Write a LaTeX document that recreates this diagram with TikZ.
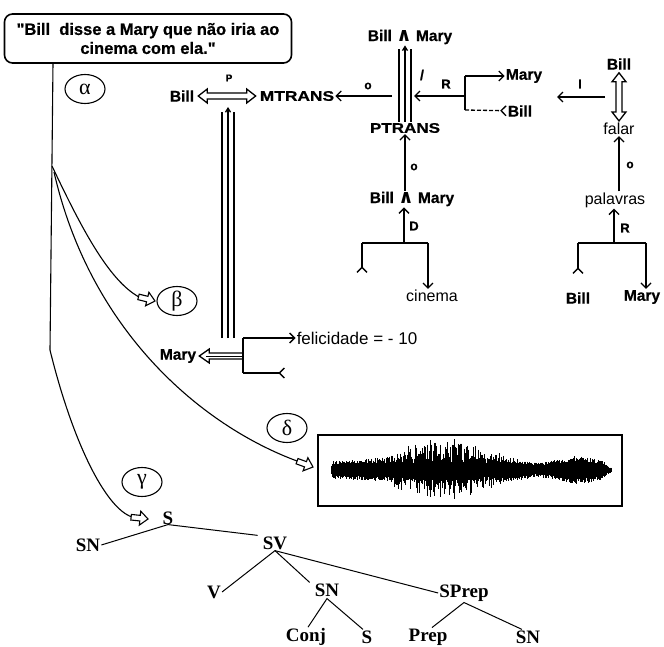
\documentclass[tikz,border=0pt]{standalone}
\usepackage{fontspec}
\setmainfont{Liberation Sans}
\newfontfamily\trfont{Liberation Serif}
\newfontfamily\djv{DejaVu Sans}
\newfontfamily\heavy[FakeBold=0.7]{Liberation Sans Bold}
\usepackage{graphicx}
\usetikzlibrary{arrows.meta,shapes.geometric,calc}
\newcommand{\wedgesym}{{\djv\bfseries\fontsize{19}{17}\selectfont\char"2227}}
\begin{document}
\begin{tikzpicture}[x=1pt,y=-1pt,
  lbl/.style={font=\heavy\fontsize{15.5}{17}\selectfont, inner sep=1pt},
  rlbl/.style={font=\fontsize{16}{17}\selectfont, inner sep=1pt},
  tiny/.style={font=\heavy\fontsize{12}{13}\selectfont, inner sep=1pt},
  tree/.style={font=\trfont\bfseries\fontsize{19}{21}\selectfont, inner sep=1pt},
  greek/.style={draw, ellipse, line width=1.1pt, minimum width=40pt, minimum height=29pt, inner sep=0pt, font=\trfont\fontsize{22}{22}\selectfont},
  ln/.style={line width=1.3pt},
  ar/.style={line width=1.3pt, -{Straight Barb[length=5pt,width=10pt]}},
  narrow/.style={line width=1.3pt, -{Straight Barb[length=4pt,width=5pt]}},
  rv/.style={line width=1.3pt, -{Straight Barb[length=5pt,width=10pt,reversed]}},
  hol/.style={line width=1.3pt, line join=miter, fill=white},
  curve/.style={line width=1.1pt},
  harrow/.pic={\draw[line width=1.1pt, fill=white, line join=miter]
     (-17,2.8) -- (-8,2.8) -- (-8,7) -- (0,0) -- (-8,-7) -- (-8,-2.8) -- (-17,-2.8) -- cycle;}
]
\useasboundingbox (0,0) rectangle (664,647);

% quote box
\node[draw, line width=1.6pt, rounded corners=8pt, minimum width=287pt, minimum height=49pt,
  align=center, inner sep=1pt, font=\heavy\fontsize{16.5}{19}\selectfont] (quote) at (148,38.5)
  {"Bill\ \ disse a Mary que não iria ao\\cinema com ela."};

% greek labels
\node[greek] (alpha) at (85,89) {α};
\node[greek] (beta) at (177,301) {β};
\node[greek] (gamma) at (142,482) {γ};
\node[greek] (delta) at (287,428) {δ};

% curves from the quote
\coordinate (t0) at (53,63);
\coordinate (t1) at (50,350);
\coordinate (b0) at (52,166);
\coordinate (d0) at (54,172);
\coordinate (btip) at (155,301);
\coordinate (dtip) at (313,467);
\coordinate (gtip) at (148,519);
\draw[curve] (t0) -- (t1) .. controls (72,440) and (105,508) .. (132,517);
\draw[curve] (b0) .. controls (80,225) and (108,280) .. (139,297);
\draw[curve] (d0) .. controls (90,330) and (200,425) .. (297,461);
\pic[rotate=-14] at (btip) {harrow};
\pic[rotate=-20] at (dtip) {harrow};
\pic[rotate=-6] at (gtip) {harrow};

% MTRANS part
\node[lbl] (bill1) at (182,96) {Bill};
\node[lbl] (mtrans) at (297,96) {\scalebox{1.12}[0.9]{MTRANS}};
\node[tiny, font=\heavy\fontsize{10}{11}\selectfont] (p) at (229,78) {P};
\coordinate (ha) at ($(bill1.east)+(3,0)$);
\coordinate (hb) at ($(mtrans.west)+(-3,0)$);
\draw[hol] (ha) -- ++(9,-7) -- ++(0,4) -- ($(hb)+(-9,-3)$) -- ++(0,-4) -- (hb)
  -- ++(-9,7) -- ++(0,-4) -- ($(ha)+(9,3)$) -- ++(0,4) -- cycle;
\coordinate (c1) at (392,96);
\draw[ar] (c1) -- (mtrans);
\node[tiny] (o1) at (368,86) {o};

% PTRANS part
\node[lbl] (ptrans) at (405,128) {\scalebox{1.1}[0.9]{PTRANS}};
\node[lbl] (bm1) at (410,37) {Bill \wedgesym\ Mary};
\draw[ln] ([xshift=-6pt]ptrans.north) -- ([xshift=-6pt,yshift=-4pt]ptrans.north |- bm1.south);
\draw[ln] ([xshift=6pt]ptrans.north) -- ([xshift=6pt,yshift=-4pt]ptrans.north |- bm1.south);
\draw[narrow] (ptrans.north) -- (ptrans.north |- bm1.south);
\node[tiny, font=\heavy\fontsize{14}{15}\selectfont] (slash) at (422,75) {/};
\coordinate (c2) at (465,96);
\draw[ar] (c2) -- (414,96);
\node[tiny, font=\heavy\fontsize{13}{14}\selectfont] (r1) at (446,84) {R};
\node[lbl] (mary1) at (524,76) {Mary};
\node[lbl] (bill2) at (520,111) {Bill};
\draw[ln] (465,76) -- (465,110);
\draw[ar] (465,76) -- (mary1);
\draw[rv, dashed, dash pattern=on 4pt off 2pt] (465,110) -- (bill2);

% falar part
\node[lbl] (bill3) at (619,64) {Bill};
\node[rlbl] (falar) at (619,129) {falar};
\coordinate (va) at ($(bill3.south)+(0,2)$);
\coordinate (vb) at ($(falar.north)+(0,-1)$);
\draw[hol] (va) -- ++(-7,9) -- ++(4,0) -- ($(vb)+(-3,-9)$) -- ++(-4,0) -- (vb)
  -- ++(7,-9) -- ++(-4,0) -- ($(va)+(3,9)$) -- ++(4,0) -- cycle;
\coordinate (c3) at (605,97);
\draw[ar] (c3) -- (557,97);
\node[tiny, font=\heavy\fontsize{13}{14}\selectfont] (i1) at (580,84) {I};

% Bill ^ Mary / cinema
\node[lbl] (bm2) at (412,199) {Bill \wedgesym\ Mary};
\draw[ar] (bm2.north -| ptrans.south) -- (ptrans.south);
\node[tiny] (o2) at (414,167) {o};
\coordinate (k1) at (404,243);
\draw[ar] (k1) -- (k1 |- bm2.south);
\node[tiny, font=\heavy\fontsize{13}{14}\selectfont] (d1) at (414,226) {D};
\node[rlbl] (cin) at (432,296) {cinema};
\coordinate (k2) at (362,243);
\coordinate (k3) at (428,243);
\coordinate (k4) at (362,273);
\draw[ln] (k2) -- (k3);
\draw[rv] (k2) -- (k4);
\draw[ar] (k3) -- (k3 |- cin.north);

% palavras part
\node[rlbl] (pal) at (615,200) {palavras};
\draw[ar] (pal.north -| falar.south) -- (falar.south);
\node[tiny] (o3) at (630,165) {o};
\coordinate (m1) at (614,243);
\draw[ar] (m1) -- (m1 |- pal.south);
\node[tiny, font=\heavy\fontsize{13}{14}\selectfont] (r2) at (625,228) {R};
\node[lbl] (bill4) at (578,298) {Bill};
\node[lbl] (mary3) at (642,297) {Mary};
\coordinate (m2) at (578,243);
\coordinate (m3) at (646,243);
\draw[ln] (m2) -- (m3);
\draw[rv] (m2) -- (578,274);
\draw[ar] (m3) -- (m3 |- mary3.north);

% Mary / felicidade
\node[lbl] (mary2) at (178,356) {Mary};
\coordinate (f0) at (243,356);
\coordinate (mt) at ($(mary2.east)+(2,0)$);
\draw[hol] (mt) -- ++(10,-7) -- ++(0,4) -- ($(f0)+(0,-3)$) -- ($(f0)+(0,3)$)
  -- ($(mt)+(10,3)$) -- ++(0,4) -- cycle;
\draw[line width=1pt] ($(mt)+(7,0)$) -- (f0);
\draw[ln] (222,338) -- (222,112);
\draw[ln] (234,338) -- (234,112);
\draw[narrow] (228,338) -- (228,107);
\node[rlbl, font=\fontsize{17}{18}\selectfont] (fel) at (357,338) {felicidade = - 10};
\draw[ln] (243,338) -- (243,373);
\draw[ar] (243,338) -- (fel);
\draw[rv] (243,373) -- (285,373);

% waveform
\node[draw, line width=1.5pt, minimum width=304pt, minimum height=71pt, inner sep=0pt] (wave) at (470,470.5) {};
\pgfmathsetseed{11}
\foreach \x in {331,331.7,...,612} {
  \pgfmathsetmacro\tp{min(1,(\x-329)/4)*min(1,(614-\x)/12)}
  \pgfmathsetmacro\core{(9+3*exp(-((\x-440)/70)^2)+5*exp(-((\x-578)/18)^2)-2.5*exp(-((\x-535)/15)^2))*\tp}
  \pgfmathsetmacro\spk{22*exp(-((\x-445)/50)^2)}
  \pgfmathsetmacro\up{\core*(0.6+0.4*rnd)+\spk*rnd^1.5}
  \pgfmathsetmacro\dn{\core*(0.6+0.4*rnd)+0.9*\spk*rnd^1.8}
  \draw[line width=0.9pt] (\x,{470-\up}) -- (\x,{470+\dn});
}

% syntax tree
\node[tree] (s0) at (168,518) {S};
\node[tree] (sn1) at (88,545) {SN};
\node[tree] (sv) at (275,543) {SV};
\node[tree] (v) at (214,592) {V};
\node[tree] (sn2) at (327,590) {SN};
\node[tree] (sprep) at (464,593) {SPrep};
\node[tree] (conj) at (306,637) {Conj};
\node[tree] (s1) at (367,637) {S};
\node[tree] (prep) at (428,637) {Prep};
\node[tree] (sn3) at (528,637) {SN};
\draw[line width=1pt] (sn1.east) -- ([yshift=1pt]s0.south) -- ([xshift=-4pt]sv.north west);
\draw[line width=1pt] (v.east) -- (sv.south) -- ([xshift=-4pt]sn2.north west);
\draw[line width=1pt] (sv.south) -- (sprep.west);
\draw[line width=1pt] ([xshift=2pt]conj.north) -- ([yshift=-1pt]sn2.south) -- ([xshift=-4pt]s1.north);
\draw[line width=1pt] ([xshift=4pt]prep.north) -- (sprep.south) -- ([xshift=-6pt]sn3.north);
\end{tikzpicture}
\end{document}
